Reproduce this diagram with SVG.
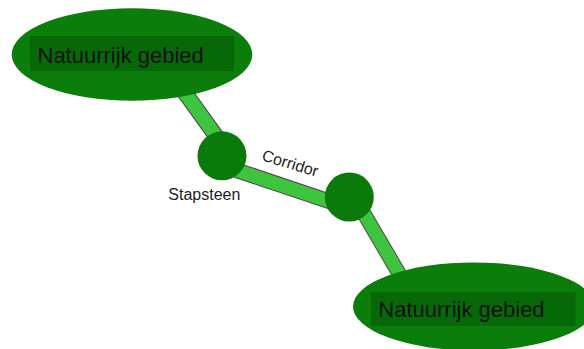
<svg xmlns="http://www.w3.org/2000/svg" width="584" height="349" viewBox="0 0 584 349">
  <style>
    .edge-out { stroke: #4a4a4a; fill: none; stroke-linecap: butt; }
    .edge-in { stroke: #3ec43e; fill: none; stroke-linecap: butt; }
    .area { fill: #0b7d0b; }
    .box { fill: #066806; }
    .step { fill: #0a7a0a; }
    .big { font-family: "Liberation Sans", Arial, sans-serif; font-size: 22px; fill: #111; }
    .lbl { font-family: "Liberation Sans", Arial, sans-serif; font-size: 16px; fill: #222; }
  </style>
  <rect width="584" height="349" fill="#ffffff"/>
  <g id="connectors">
    <g id="c1">
      <line class="edge-out" x1="168.5" y1="70" x2="229.7" y2="155" stroke-width="16"/>
      <line class="edge-in" x1="168.5" y1="70" x2="229.7" y2="155" stroke-width="14"/>
    </g>
    <g id="c2">
      <line class="edge-out" x1="222" y1="165.3" x2="348" y2="207.6" stroke-width="15.5"/>
      <line class="edge-in" x1="222" y1="165.3" x2="348" y2="207.6" stroke-width="13.5"/>
    </g>
    <g id="c3">
      <line class="edge-out" x1="354.2" y1="197" x2="408.7" y2="290" stroke-width="15"/>
      <line class="edge-in" x1="354.2" y1="197" x2="408.7" y2="290" stroke-width="13"/>
    </g>
    <text class="lbl" x="261" y="160" transform="rotate(17 261 160)">Corridor</text>
  </g>
  <g id="area-top">
    <ellipse class="area" cx="132" cy="54.5" rx="120.3" ry="46.2"/>
    <rect class="box" x="30" y="36" width="204" height="35"/>
    <text class="big" x="37.5" y="62.5">Natuurrijk gebied</text>
  </g>
  <g id="stepping-stone-1">
    <circle class="step" cx="222" cy="155.8" r="24.5"/>
    <text class="lbl" x="168.3" y="200">Stapsteen</text>
  </g>
  <g id="stepping-stone-2">
    <circle class="step" cx="349.3" cy="197" r="24.5"/>
  </g>
  <g id="area-bottom">
    <ellipse class="area" cx="474" cy="306.5" rx="121" ry="44"/>
    <rect class="box" x="371" y="292.3" width="204.5" height="33.7"/>
    <text class="big" x="378.3" y="316.7">Natuurrijk gebied</text>
  </g>
</svg>
